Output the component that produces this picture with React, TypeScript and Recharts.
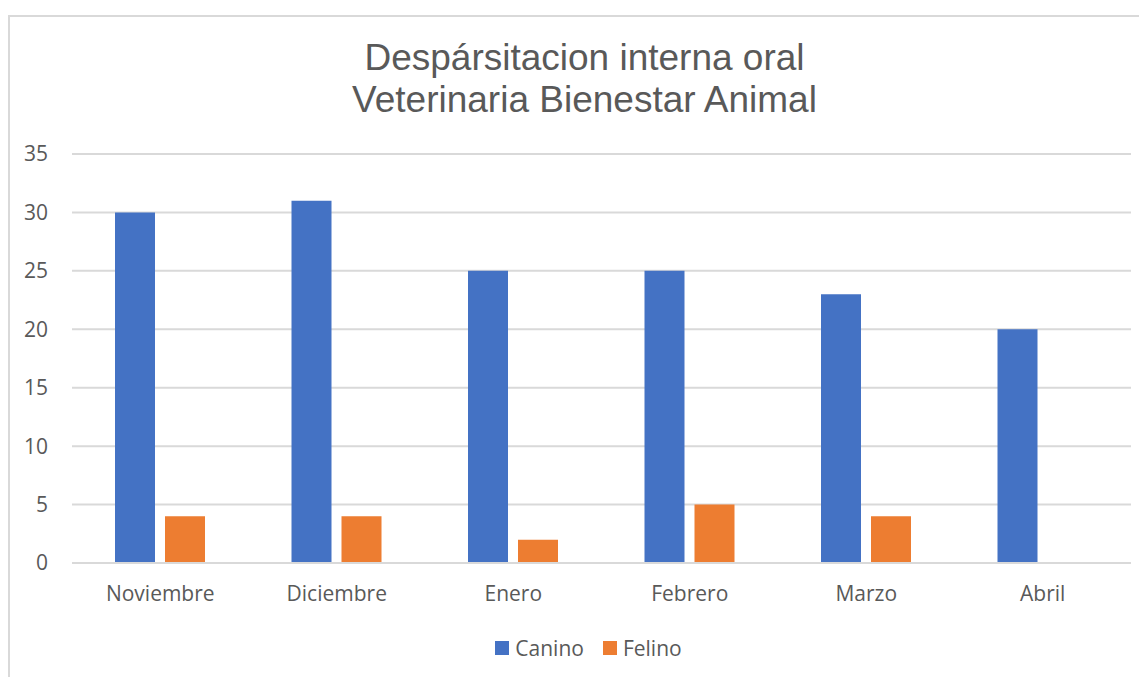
import React from 'react';
import { BarChart, Bar, XAxis, YAxis, CartesianGrid, Legend } from 'recharts';

const meses = ['Noviembre', 'Diciembre', 'Enero', 'Febrero', 'Marzo', 'Abril'];
const canino = [30, 31, 25, 25, 23, 20];
const felino = [4, 4, 2, 5, 4, 0];
const yTicks = [0, 5, 10, 15, 20, 25, 30, 35];

const data = meses.map((mes, i) => ({ mes, canino: canino[i], felino: felino[i] }));

const gris = '#595959';
const fuente = '"Open Sans", sans-serif';

const LegendContent = (props: any) => {
    const { payload } = props;
    return (
        <div style={{ display: 'flex', justifyContent: 'center', alignItems: 'center', height: 30, paddingLeft: 22 }}>
            {(payload || []).map((item: any, i: number) => (
                <div key={i} style={{ display: 'flex', alignItems: 'center', marginRight: i === 0 ? 19 : 0 }}>
                    <span style={{ display: 'inline-block', width: 14, height: 14, background: item.color, marginRight: 6 }} />
                    <span style={{ fontFamily: fuente, fontSize: 21, color: gris }}>{item.value}</span>
                </div>
            ))}
        </div>
    );
};

export default function App() {
    return (
        <div style={{ position: 'relative', width: 1139, height: 669, overflow: 'hidden' }}>
            <div
                style={{
                    position: 'absolute',
                    left: 0,
                    top: 7,
                    width: 1300,
                    height: 800,
                    borderLeft: '2px solid #d9d9d9',
                    borderTop: '2px solid #d9d9d9',
                }}
            />
            <div
                style={{
                    position: 'absolute',
                    left: 7,
                    top: 29,
                    width: 1139,
                    textAlign: 'center',
                    fontFamily: '"Liberation Sans", Arial, sans-serif',
                    fontSize: 37,
                    lineHeight: '41.6px',
                    color: gris,
                }}
            >
                Despársitacion interna oral
                <br />
                Veterinaria Bienestar Animal
            </div>
            <div style={{ position: 'absolute', left: 0, top: 0 }}>
                <BarChart
                    width={1139}
                    height={669}
                    data={data}
                    margin={{ top: 146, right: 16, left: 0, bottom: 14 }}
                    barSize={40}
                    barGap={10}
                >
                    <CartesianGrid vertical={false} stroke="#d9d9d9" strokeWidth={2} />
                    <XAxis
                        dataKey="mes"
                        height={70}
                        axisLine={{ stroke: '#d9d9d9', strokeWidth: 2 }}
                        tickLine={false}
                        tickSize={0}
                        tickMargin={23}
                        tick={{ fill: gris, fontSize: 21, fontFamily: fuente }}
                    />
                    <YAxis
                        width={64}
                        domain={[0, 35]}
                        ticks={yTicks}
                        axisLine={false}
                        tickLine={false}
                        tickSize={0}
                        tickMargin={24}
                        tick={{ fill: gris, fontSize: 21, fontFamily: fuente }}
                    />
                    <Legend verticalAlign="bottom" height={30} content={<LegendContent />} wrapperStyle={{ left: 0, width: 1139 }} />
                    <Bar dataKey="canino" name="Canino" fill="#4472C4" isAnimationActive={false} />
                    <Bar dataKey="felino" name="Felino" fill="#ED7D31" isAnimationActive={false} />
                </BarChart>
            </div>
        </div>
    );
}
